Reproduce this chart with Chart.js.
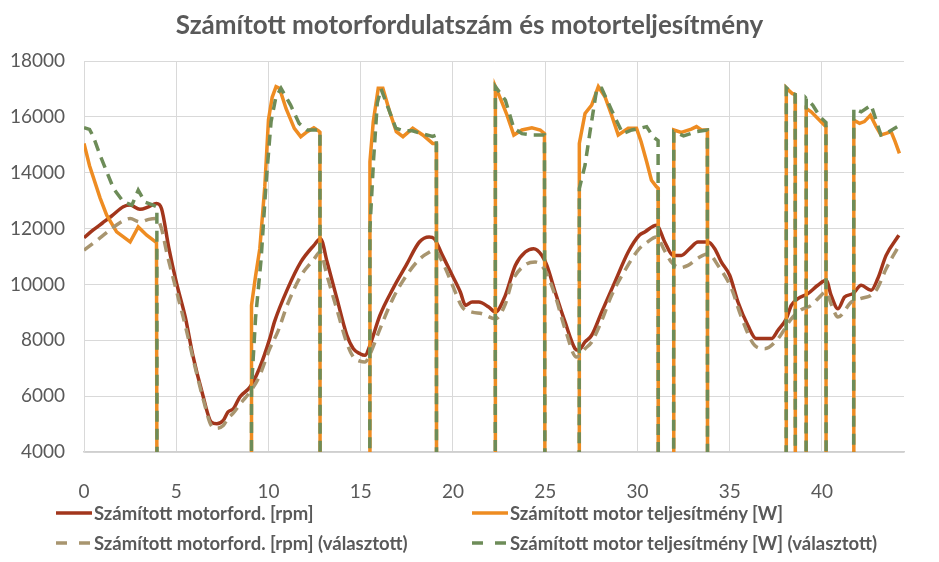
<!DOCTYPE html>
<html>
<head>
<meta charset="utf-8">
<script src="https://cdn.jsdelivr.net/npm/chart.js@4"></script>
<style>
  html, body { margin: 0; padding: 0; background: #fff; }
  #wrap { position: relative; width: 939px; height: 562px; }
  .leg { position: absolute; height: 20px; display: flex; align-items: center;
         font: bold 18.5px Lato, sans-serif; color: #595959; white-space: nowrap; }
  .leg svg { margin-right: 2px; }
</style>
</head>
<body>
<div id="wrap">
  <canvas id="chartMotor" width="939" height="562"></canvas>
  <div id="legend"></div>
</div>
<script>
// x = idő [s], y = érték
var rpmCalc = [
	[0,11670],[0.5,11950],[1.0,12200],[1.5,12450],[2.13,12780],[2.5,12840],[3.03,12690],[3.5,12780],
	[3.93,12900],[4.2,12720],[4.6,11300],[5.0,10090],[5.5,8800],[5.9,7460],[6.4,6140],[6.9,5070],
	[7.2,5010],[7.55,5130],[7.8,5430],[8.1,5550],[8.45,5970],[9.0,6325],[9.5,6980],[10.07,8060],
	[10.32,8650],[11.04,9850],[11.75,10800],[12.46,11400],[12.82,11640],[13.18,10800],[13.71,9490],
	[14.25,8180],[14.6,7700],[14.96,7520],[15.23,7460],[15.5,7820],[16.04,8890],[16.75,9850],
	[17.46,10680],[18.18,11520],[18.71,11700],[18.98,11640],[19.43,11040],[19.96,10330],[20.4,9730],
	[20.68,9250],[21.04,9370],[21.4,9370],[21.94,9190],[22.3,9010],[22.84,9610],[23.38,10680],
	[23.92,11160],[24.37,11280],[24.82,11040],[25.09,10680],[25.54,9730],[26.08,8650],[26.62,7700],
	[26.8,7640],[27.16,7940],[27.52,8180],[28.06,9010],[28.78,10090],[29.5,11160],[30.1,11760],
	[30.4,11880],[31.03,12120],[31.48,11520],[31.93,11040],[32.38,11040],[32.83,11280],[33.28,11520],
	[33.83,11520],[34.19,11280],[34.55,10800],[35.0,10330],[35.45,9370],[35.99,8530],[36.44,8060],
	[36.9,8060],[37.26,8060],[37.62,8360],[38.07,8770],[38.34,9250],[38.7,9490],[39.24,9670],
	[39.78,9970],[40.23,10150],[40.5,9610],[40.87,9130],[41.23,9550],[41.68,9670],[42.13,9970],
	[42.67,9790],[43.03,10210],[43.48,11040],[44.17,11760]
];

var powerCalc = [
	[0,15050],[0.3,14250],[0.87,13100],[1.23,12480],[1.77,11880],[2.5,11520],[2.94,12060],[3.4,11760],[3.93,11500],
	[3.96,0],[9.07,0],
	[9.08,9250],[9.3,10300],[9.53,11280],[9.8,13500],[10.0,15900],[10.2,16700],[10.41,17080],[10.6,17020],
	[10.95,16300],[11.4,15585],[11.75,15290],[12.1,15470],[12.46,15610],[12.73,15490],[12.79,15450],
	[12.8,0],[15.49,0],
	[15.5,14390],[15.68,15825],[15.95,17020],[16.2,17020],[16.57,16180],[16.93,15470],[17.29,15290],
	[17.82,15590],[18.36,15350],[18.9,15050],[19.1,15050],
	[19.11,0],[22.29,0],
	[22.3,17080],[22.57,16660],[22.93,16060],[23.3,15350],[23.74,15530],[24.28,15610],[24.73,15530],[24.96,15400],
	[24.99,0],[26.84,0],
	[26.85,15050],[27.16,16120],[27.52,16420],[27.88,17080],[28.24,16720],[28.6,16060],[28.96,15350],
	[29.5,15590],[29.95,15590],[30.2,15110],[30.5,14390],[30.76,13730],[31.03,13500],[31.12,13450],
	[31.13,0],[31.96,0],
	[31.97,15530],[32.38,15440],[32.92,15560],[33.2,15650],[33.47,15530],[33.79,15530],
	[33.8,0],[38.06,0],
	[38.07,17040],[38.2,16950],[38.38,16840],[38.55,16800],
	[38.56,0],[39.14,0],
	[39.15,16300],[39.42,16180],[39.78,15940],[40.14,15700],[40.22,15650],
	[40.23,0],[41.72,0],
	[41.73,15880],[42.04,15770],[42.3,15830],[42.63,16060],[42.94,15650],[43.2,15350],[43.48,15410],
	[43.75,15470],[43.97,15110],[44.2,14690]
];

var rpmChosen = [
	[0,11225],[0.87,11667],[1.5,12000],[2.13,12280],[2.5,12360],[3.03,12240],[3.5,12330],[3.93,12360],
	[4.2,12000],[4.5,11100],[5.0,9800],[5.5,8500],[6.0,7100],[6.5,5800],[6.9,4950],[7.2,4850],
	[7.55,4950],[7.8,5200],[8.1,5400],[8.5,5750],[9.0,6150],[9.5,6700],[10.07,7700],[10.5,8300],
	[11.04,9300],[11.75,10300],[12.46,10900],[12.8,11160],[13.18,10300],[13.71,9100],[14.25,7900],
	[14.6,7400],[14.96,7250],[15.23,7220],[15.5,7500],[16.04,8400],[16.75,9500],[17.46,10300],
	[18.18,10900],[18.71,11150],[18.98,11225],[19.43,10800],[19.96,10000],[20.5,9190],[21.04,9010],
	[21.58,8950],[22.3,8770],[22.84,9300],[23.2,10090],[23.92,10700],[24.46,10800],[25.0,10500],
	[25.54,9600],[26.08,8400],[26.7,7400],[27.16,7700],[27.52,7940],[28.06,8700],[28.6,9610],
	[29.5,10700],[30.1,11280],[30.5,11500],[31.03,11700],[31.48,11200],[31.84,10800],[32.3,10600],
	[32.74,10680],[33.3,10950],[33.83,11100],[34.37,10680],[35.1,9850],[35.6,8890],[36.35,7820],
	[36.9,7700],[37.62,8060],[38.34,8770],[38.9,9100],[39.42,9250],[39.8,9500],[40.23,9730],
	[40.5,9300],[40.87,8830],[41.6,9370],[42.13,9500],[42.67,9610],[43.0,9850],[43.48,10560],[44.08,11280]
];

var powerChosen = [
	[0,15610],[0.3,15550],[0.5,15300],[0.87,14630],[1.6,13435],[2.13,12960],[2.6,12840],[2.94,13375],
	[3.3,12950],[3.75,12840],[3.95,12780],
	[3.96,0],[9.07,0],
	[9.08,6300],[9.3,8800],[9.6,10900],[9.875,13675],[10.14,15825],[10.4,16700],[10.68,17020],
	[11.2,16420],[11.66,15765],[12.1,15530],[12.64,15530],[12.79,15500],
	[12.8,0],[15.49,0],
	[15.5,12000],[15.7,14500],[15.9,16500],[16.1,17000],[16.5,16300],[16.9,15600],[17.3,15500],
	[17.8,15500],[18.3,15400],[18.9,15300],[19.1,15350],
	[19.11,0],[22.29,0],
	[22.3,17080],[22.84,16600],[23.3,15590],[23.74,15400],[24.3,15350],[24.96,15350],
	[24.99,0],[26.84,0],
	[26.85,13435],[27.16,14270],[27.43,15470],[27.8,17020],[28.06,17020],[28.6,16240],[29.2,15400],
	[29.7,15530],[30.2,15600],[30.5,15650],[30.85,15290],[31.12,15150],
	[31.13,0],[31.96,0],
	[31.97,15470],[32.5,15320],[33.2,15470],[33.79,15530],
	[33.8,0],[38.06,0],
	[38.07,17040],[38.38,16840],[38.55,16800],
	[38.56,0],[39.14,0],
	[39.15,16660],[39.5,16420],[39.9,16000],[40.22,15800],
	[40.23,0],[41.72,0],
	[41.73,16300],[42.13,16180],[42.67,16420],[43.2,15350],[43.48,15410],[44.08,15650]
];

var seriesNames = [
	"Számított motorford. [rpm]",
	"Számított motor teljesítmény [W]",
	"Számított motorford. [rpm] (választott)",
	"Számított motor teljesítmény [W] (választott)"
];
var seriesColors = ["#a2361c", "#ee8c22", "#a8956f", "#6d8c58"];
var seriesDashed = [false, false, true, true];
var seriesSmooth = [true, false, true, false];
var seriesData = [rpmCalc, powerCalc, rpmChosen, powerChosen];

var chartTitle = "Számított motorfordulatszám és motorteljesítmény";
var yTickMin = 4000, yTickMax = 18000, yTickStep = 2000;
var xTickMin = 0, xTickMax = 44.45, xTickStep = 5;

var motor_chart = "chartMotor";
var motor = {};

motor.toPoints = function(arr) {
	return arr.map(function(p) { return { x: p[0], y: p[1] }; });
};

motor.buildDatasets = function() {
	return seriesData.map(function(arr, i) {
		var ds = {
			label: seriesNames[i],
			data: motor.toPoints(arr),
			borderColor: seriesColors[i],
			backgroundColor: seriesColors[i],
			borderWidth: 3.5,
			borderDash: seriesDashed[i] ? [11, 7] : [],
			pointRadius: 0,
			fill: false,
			tension: 0,
			order: 4 - i   // Excel: a későbbi sorozat van felül
		};
		if (seriesSmooth[i]) ds.cubicInterpolationMode = "monotone";
		return ds;
	});
};

// cím a teljes vászon közepére
motor.titlePlugin = {
	id: "centerTitle",
	afterDraw: function(chart) {
		var ctx = chart.ctx;
		ctx.save();
		ctx.font = "bold 26px Lato";
		ctx.fillStyle = "#595959";
		ctx.textAlign = "center";
		ctx.textBaseline = "middle";
		ctx.fillText(chartTitle, chart.width / 2, 26);
		ctx.restore();
	}
};

motor.buildLegend = function() {
	var pos = [[56, 503], [472, 503], [56, 533], [472, 533]];
	var html = "";
	seriesNames.forEach(function(name, i) {
		var dash = seriesDashed[i] ? ' stroke-dasharray="11 12"' : '';
		html += '<div class="leg" style="left:' + pos[i][0] + 'px;top:' + pos[i][1] + 'px">' +
			'<svg width="36" height="8"><line x1="0" y1="4" x2="36" y2="4" stroke="' + seriesColors[i] +
			'" stroke-width="3.5"' + dash + '/></svg>' + name + '</div>';
	});
	document.getElementById("legend").innerHTML = html;
};

function Init() {
	var tickFont = { family: "Lato", size: 19 };
	motor.Chart = new Chart(document.getElementById(motor_chart).getContext("2d"), {
		type: "line",
		data: { datasets: motor.buildDatasets() },
		plugins: [motor.titlePlugin],
		options: {
			responsive: false,
			animation: false,
			layout: { padding: { left: 0, right: 35, top: 61, bottom: 60 } },
			plugins: {
				legend: { display: false },
				tooltip: { enabled: false },
				title: { display: false }
			},
			scales: {
				x: {
					type: "linear",
					min: xTickMin,
					max: xTickMax,
					afterFit: function(s) { s.height = 50; },
					ticks: { stepSize: xTickStep, includeBounds: false, color: "#595959", font: tickFont, padding: 28,
						callback: function(v) { return String(v); } },
					grid: { color: "#d9d9d9", lineWidth: 1, drawTicks: false },
					border: { color: "#cfcfcf", width: 1.5 }
				},
				y: {
					min: yTickMin,
					max: yTickMax,
					afterFit: function(s) { s.width = 84; },
					ticks: { stepSize: yTickStep, color: "#595959", font: tickFont, padding: 19,
						callback: function(v) { return String(v); } },
					grid: { color: "#d9d9d9", lineWidth: 1, drawTicks: false },
					border: { color: "#d9d9d9", width: 1 }
				}
			}
		}
	});
	motor.buildLegend();
}

Init();
</script>
</body>
</html>
